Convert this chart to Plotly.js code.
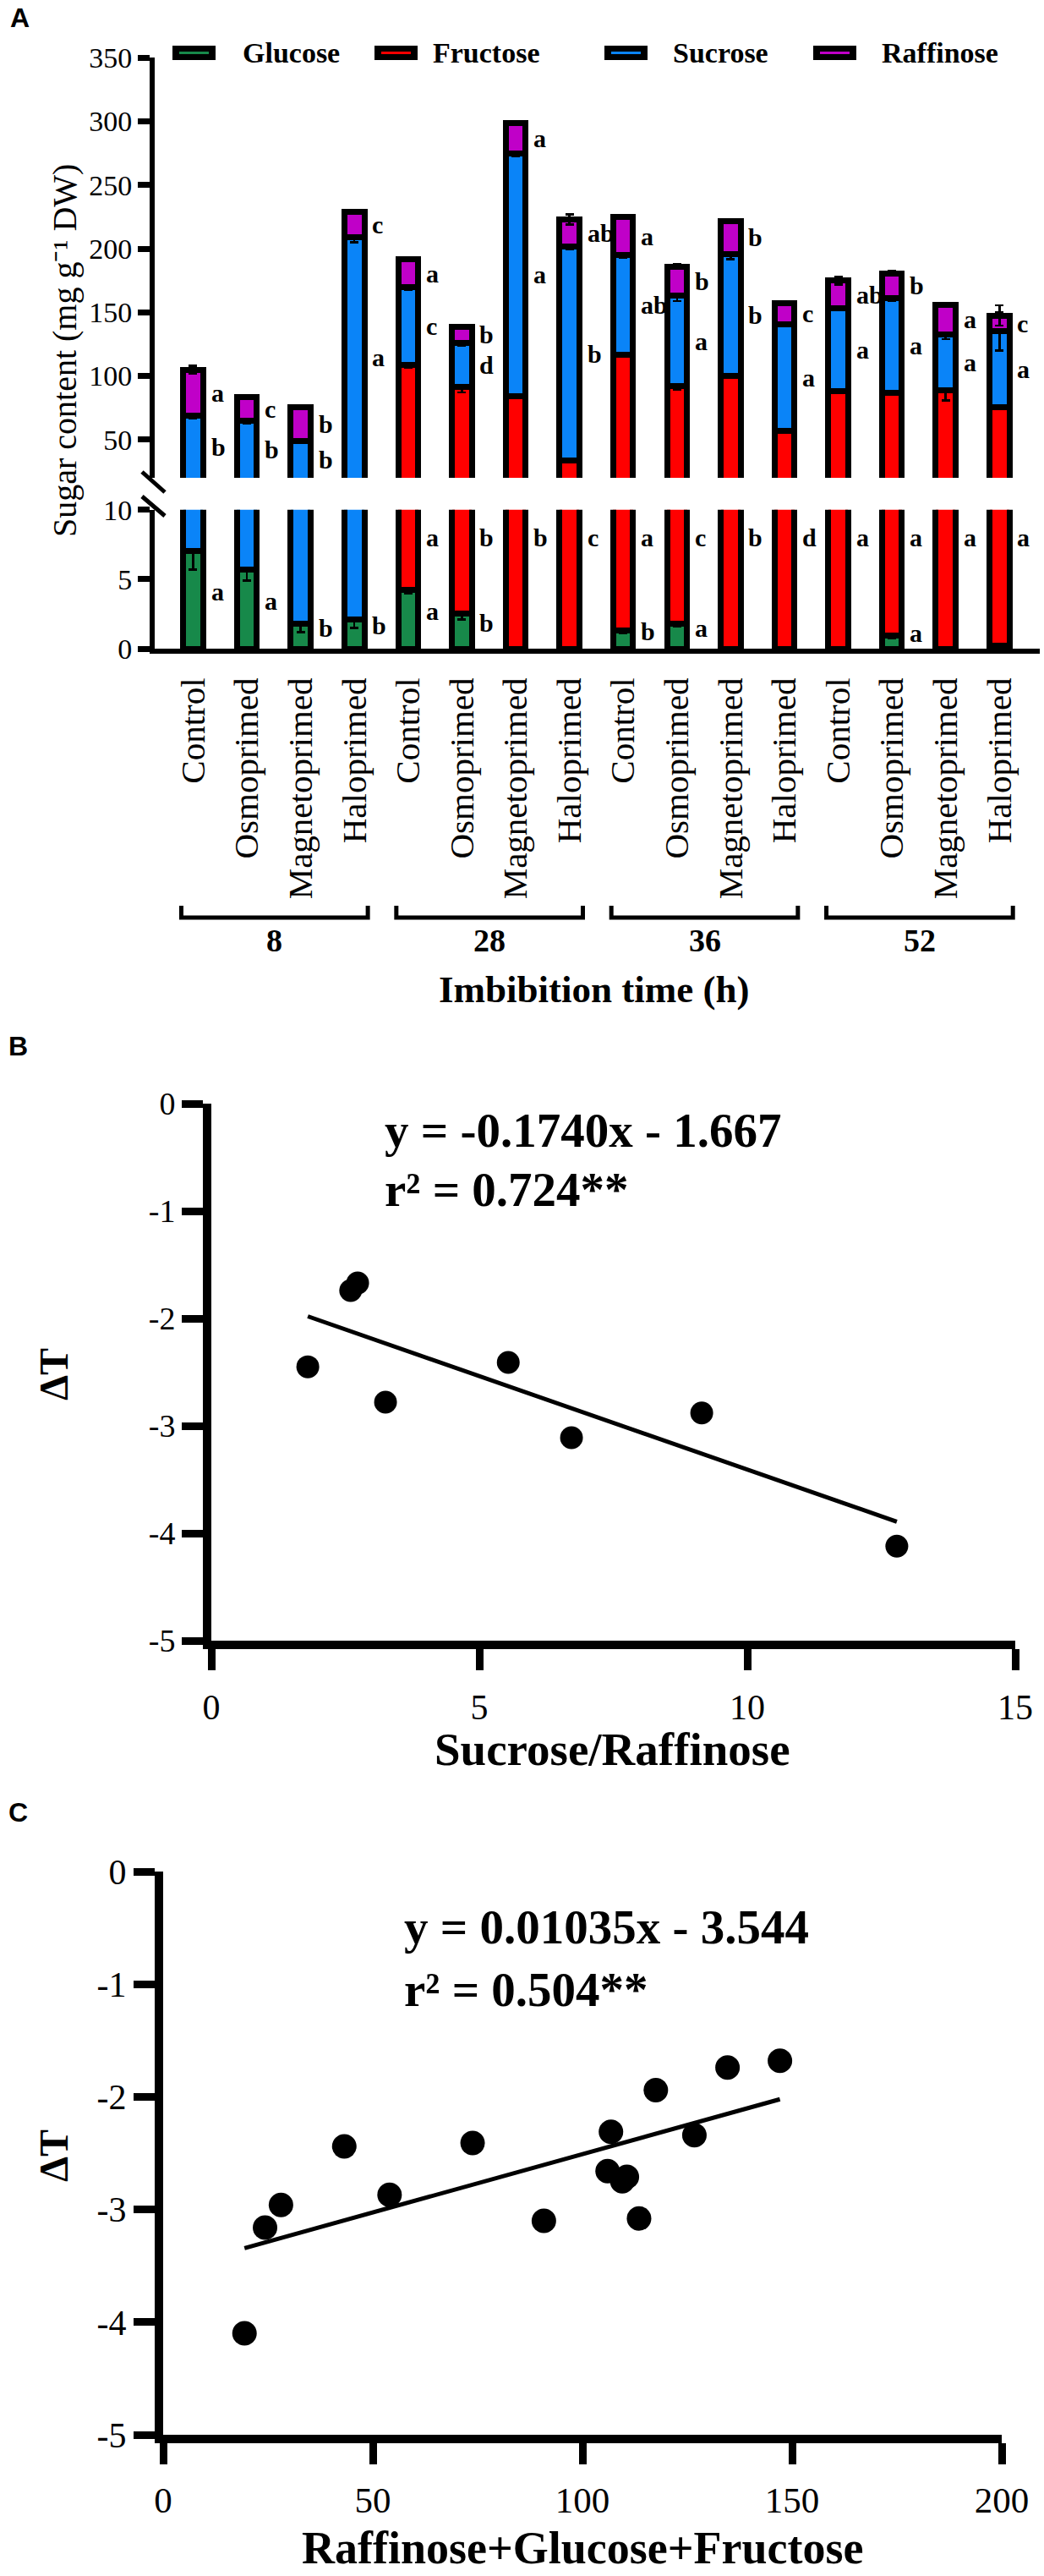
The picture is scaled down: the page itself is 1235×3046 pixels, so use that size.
<!DOCTYPE html>
<html>
<head>
<meta charset="utf-8">
<script src="https://cdn.plot.ly/plotly-3.0.1.min.js"></script>
<style>
  body { margin: 0; background: #fff; }
  #chart { width: 1235px; height: 3046px; }
</style>
</head>
<body>
<div id="chart"></div>
<script>
// ---- panel A data: sugar content (mg g-1 DW), 16 bars = 4 times x 4 treatments
let treatments = ['Control', 'Osmoprimed', 'Magnetoprimed', 'Haloprimed'];
let times = ['8', '28', '36', '52'];

let glucose   = [7.0, 5.7, 1.8, 2.1, 4.2, 2.5, 0, 0, 1.3, 1.8, 0, 0, 0, 0.95, 0, 0.2];
let fructose  = [0, 0, 0, 0, 104.4, 88.7, 84.2, 33.4, 115.7, 90.2, 99.9, 56.6, 87.9, 85.7, 88.7, 75.3];
let sucrose   = [62, 59, 47.2, 206.9, 61, 34.8, 190.6, 168.2, 78, 71, 96, 84.3, 65, 74.4, 44.2, 59.5];
let raffinose = [36, 18.6, 26.5, 20, 22.1, 12.6, 24, 21.3, 30, 23, 25.6, 16.4, 22, 19.7, 23.3, 12.5];

let glucoseErr   = [1.3, 0.8, 0.6, 0.6, 0.2, 0.4, 0, 0, 0.2, 0.2, 0, 0, 0, 0.2, 0, 0];
let fructoseErr  = [0, 0, 0, 0, 2, 4, 1, 1, 1, 3, 1, 1, 1, 1, 8, 1.5];
let sucroseErr   = [2, 2, 1, 4, 2, 2, 2, 2, 2, 4, 4, 2, 1, 2, 4, 15];
let raffinoseErr = [3, 1, 1, 1, 1, 1, 1, 4, 1, 2, 1, 1, 3, 2, 1, 8];

// significance letters
let glucoseLetters   = ['a', 'a', 'b', 'b', 'a', 'b', '', '', 'b', 'a', '', '', '', 'a', '', ''];
let fructoseLetters  = ['', '', '', '', 'a', 'b', 'b', 'c', 'a', 'c', 'b', 'd', 'a', 'a', 'a', 'a'];
let sucroseLetters   = ['b', 'b', 'b', 'a', 'c', 'd', 'a', 'b', 'ab', 'a', 'b', 'a', 'a', 'a', 'a', 'a'];
let raffinoseLetters = ['a', 'c', 'b', 'c', 'a', 'b', 'a', 'ab', 'a', 'b', 'b', 'c', 'ab', 'b', 'a', 'c'];

// ---- panel B data
let sucRaffRatio = [1.80, 2.60, 2.73, 3.25, 5.54, 6.72, 9.15, 12.79];
let deltaTB      = [-2.45, -1.74, -1.67, -2.78, -2.41, -3.11, -2.88, -4.12];
let slopeB = -0.1740, interceptB = -1.667, r2B = 0.724;

// ---- panel C data
let sumRGF  = [19.4, 24.3, 28.1, 43.2, 54.0, 73.8, 90.8, 106.8, 106.0, 109.5, 110.6, 113.5, 117.5, 126.7, 134.6, 147.1];
let deltaTC = [-4.10, -3.16, -2.96, -2.44, -2.87, -2.41, -3.10, -2.31, -2.66, -2.75, -2.71, -3.08, -1.94, -2.34, -1.74, -1.68];
let slopeC = 0.01035, interceptC = -3.544, r2C = 0.504;

let sugarNames  = ['Glucose', 'Fructose', 'Sucrose', 'Raffinose'];
let sugarColors = ['#17894a', '#ff0000', '#0a84f8', '#c000c8'];

// ---- helpers: pixel -> paper
const W = 1235, H = 3046;
const px = v => v / W;
const py = v => 1 - v / H;
const SERIF = 'Liberation Serif';

let barLabels = [];
times.forEach(() => treatments.forEach(t => barLabels.push(t)));
let barX = barLabels.map((_, i) => i);

let series = [glucose, fructose, sucrose, raffinose];
let errors = [glucoseErr, fructoseErr, sucroseErr, raffinoseErr];

let traces = [];
// same stacks drawn twice: lower (0-10) and upper (20-350) part of the broken axis
['y', 'y2'].forEach(ax => {
    series.forEach((vals, k) => {
        traces.push({
            type: 'bar',
            x: barX,
            y: vals,
            xaxis: 'x',
            yaxis: ax,
            width: 0.37,
            name: sugarNames[k],
            showlegend: false,
            hoverinfo: 'skip',
            marker: { color: sugarColors[k], line: { color: '#000', width: 7 } },
            error_y: { type: 'data', array: errors[k], visible: true, color: '#000', thickness: 2.5, width: 5 }
        });
    });
});

function fitLine(xs, slope, intercept, xa, ya) {
    let ends = [Math.min(...xs), Math.max(...xs)];
    return {
        type: 'scatter', mode: 'lines', xaxis: xa, yaxis: ya, hoverinfo: 'skip', showlegend: false,
        x: ends, y: ends.map(v => slope * v + intercept),
        line: { color: '#000', width: 5 }
    };
}

traces.push(fitLine(sucRaffRatio, slopeB, interceptB, 'x2', 'y3'));
traces.push({
    type: 'scatter', mode: 'markers', xaxis: 'x2', yaxis: 'y3', showlegend: false,
    x: sucRaffRatio, y: deltaTB, marker: { color: '#000', size: 27 }
});

traces.push(fitLine(sumRGF, slopeC, interceptC, 'x3', 'y4'));
traces.push({
    type: 'scatter', mode: 'markers', xaxis: 'x3', yaxis: 'y4', showlegend: false,
    x: sumRGF, y: deltaTC, marker: { color: '#000', size: 29 }
});

// ---- annotations
let annotations = [];
function note(text, x, y, extra) {
    annotations.push(Object.assign({
        text: text, x: x, y: y, xref: 'paper', yref: 'paper', showarrow: false,
        xanchor: 'center', yanchor: 'middle',
        font: { family: SERIF, size: 30, color: '#000', weight: 'bold' }
    }, extra || {}));
}
function serif(size, bold) {
    return { family: SERIF, size: size, color: '#000', weight: bold ? 'bold' : 'normal' };
}

// letters beside the bars
barX.forEach(i => {
    let gTop = glucose[i];
    let fTop = gTop + fructose[i];
    let sTop = fTop + sucrose[i];
    let rTop = sTop + raffinose[i];
    let lx = i + 0.3;
    let f = serif(30, true);
    if (raffinoseLetters[i]) note(raffinoseLetters[i], lx, (sTop + rTop) / 2, { xref: 'x', yref: 'y2', xanchor: 'left', font: f });
    if (sucroseLetters[i]) note(sucroseLetters[i], lx, (Math.max(fTop, 20) + sTop) / 2, { xref: 'x', yref: 'y2', xanchor: 'left', font: f });
    if (fructoseLetters[i]) note(fructoseLetters[i], lx, 8, { xref: 'x', yref: 'y', xanchor: 'left', font: f });
    if (glucoseLetters[i]) note(glucoseLetters[i], lx, Math.max(gTop / 2, 0.5) + 0.6, { xref: 'x', yref: 'y', xanchor: 'left', font: f });
});

// panel letters
let sansBold = { family: 'Liberation Sans', size: 32, color: '#000', weight: 'bold' };
note('A', px(23), py(21), { font: sansBold });
note('B', px(21), py(1237), { font: sansBold });
note('C', px(21), py(2143), { font: sansBold });

// axis titles
note('Sugar content (mg g\u207B\u00B9 DW)', px(77), py(415), { textangle: -90, font: serif(40, false) });
note('Imbibition time (h)', px(703), py(1170), { font: serif(45, true) });
note('\u0394T', px(63), py(1625), { textangle: -90, font: serif(48, true) });
note('Sucrose/Raffinose', px(724), py(2068), { font: serif(55, true) });
note('\u0394T', px(63), py(2549), { textangle: -90, font: serif(48, true) });
note('Raffinose+Glucose+Fructose', px(689), py(3045), { yanchor: 'bottom', font: serif(54, true) });

// regression equations
note('y = ' + slopeB.toFixed(4) + 'x - ' + Math.abs(interceptB).toFixed(3), px(453), py(1336), { xanchor: 'left', font: serif(57, true) });
note('r\u00B2 = ' + r2B.toFixed(3) + '**', px(453), py(1407), { xanchor: 'left', font: serif(57, true) });
note('y = ' + slopeC.toFixed(5) + 'x - ' + Math.abs(interceptC).toFixed(3), px(476), py(2278), { xanchor: 'left', font: serif(57, true) });
note('r\u00B2 = ' + r2C.toFixed(3) + '**', px(476), py(2352), { xanchor: 'left', font: serif(57, true) });

// ---- shapes: legend, axis break, time brackets
let shapes = [];
let legSymX = [204, 443, 715, 962];
let legTextX = [285, 510, 794, 1041];
sugarNames.forEach((name, k) => {
    shapes.push({ type: 'rect', xref: 'paper', yref: 'paper', x0: px(legSymX[k]), x1: px(legSymX[k] + 51), y0: py(71), y1: py(54), fillcolor: '#000', line: { width: 0 } });
    shapes.push({ type: 'line', xref: 'paper', yref: 'paper', x0: px(legSymX[k] + 8), x1: px(legSymX[k] + 43), y0: py(62.5), y1: py(62.5), line: { color: sugarColors[k], width: 3 } });
    note(name, px(legTextX[k]), py(62), { xanchor: 'left', font: serif(34, true) });
});

shapes.push({ type: 'line', xref: 'paper', yref: 'paper', x0: px(168), y0: py(558), x1: px(195), y1: py(582), line: { color: '#000', width: 5 } });
shapes.push({ type: 'line', xref: 'paper', yref: 'paper', x0: px(168), y0: py(587), x1: px(195), y1: py(610), line: { color: '#000', width: 5 } });

times.forEach((t, g) => {
    let x0 = g * treatments.length - 0.22;
    let x1 = (g + 1) * treatments.length - 1 + 0.25;
    shapes.push({
        type: 'path', xref: 'x', yref: 'paper',
        path: 'M ' + x0 + ',' + py(1071) + ' L ' + x0 + ',' + py(1085) + ' L ' + x1 + ',' + py(1085) + ' L ' + x1 + ',' + py(1071),
        line: { color: '#000', width: 5 }
    });
    note(t, (x0 + x1) / 2, py(1112), { xref: 'x', font: serif(38, true) });
});

// ---- axes
let axisBase = { showgrid: false, zeroline: false, showline: true, linecolor: '#000', ticks: 'outside', tickcolor: '#000', fixedrange: true };
let dTvals = [0, -1, -2, -3, -4, -5];

let layout = {
    width: W, height: H,
    margin: { l: 0, r: 0, t: 0, b: 0 },
    paper_bgcolor: '#fff', plot_bgcolor: 'rgba(0,0,0,0)',
    font: { family: SERIF, color: '#000' },
    barmode: 'stack',
    showlegend: false,
    xaxis: Object.assign({}, axisBase, {
        domain: [px(183), px(1230)], range: [-0.715, 15.75], anchor: 'y',
        tickvals: barX, ticktext: barLabels, tickangle: -90, ticks: '', linewidth: 6,
        tickfont: serif(41, false), ticklabelstandoff: 12
    }),
    yaxis: Object.assign({}, axisBase, {
        domain: [py(767), py(602.7)], range: [0, 10], anchor: 'x',
        tickvals: [0, 5, 10], ticklen: 14, tickwidth: 7, linewidth: 6, tickfont: serif(34, false)
    }),
    yaxis2: Object.assign({}, axisBase, {
        domain: [py(565), py(68.3)], range: [20, 350], anchor: 'x',
        tickvals: [50, 100, 150, 200, 250, 300, 350], ticklen: 14, tickwidth: 7, linewidth: 6, tickfont: serif(34, false)
    }),
    xaxis2: Object.assign({}, axisBase, {
        domain: [px(250), px(1201)], range: [0, 15], anchor: 'y3',
        tickvals: [0, 5, 10, 15], ticklen: 25, tickwidth: 9, linewidth: 10, tickfont: serif(42, false), ticklabelstandoff: 8
    }),
    yaxis3: Object.assign({}, axisBase, {
        domain: [py(1940), py(1305)], range: [-5, 0], anchor: 'x2',
        tickvals: dTvals, ticktext: dTvals.map(String),
        ticklen: 25, tickwidth: 9, linewidth: 10, tickfont: serif(38, false)
    }),
    xaxis3: Object.assign({}, axisBase, {
        domain: [px(193), px(1185)], range: [0, 200], anchor: 'y4',
        tickvals: [0, 50, 100, 150, 200], ticklen: 25, tickwidth: 9, linewidth: 10, tickfont: serif(43, false), ticklabelstandoff: 5
    }),
    yaxis4: Object.assign({}, axisBase, {
        domain: [py(2879), py(2213)], range: [-5, 0], anchor: 'x3',
        tickvals: dTvals, ticktext: dTvals.map(String),
        ticklen: 25, tickwidth: 9, linewidth: 10, tickfont: serif(42, false)
    }),
    annotations: annotations,
    shapes: shapes
};

Plotly.newPlot('chart', traces, layout, { displayModeBar: false, staticPlot: true });
</script>
</body>
</html>
